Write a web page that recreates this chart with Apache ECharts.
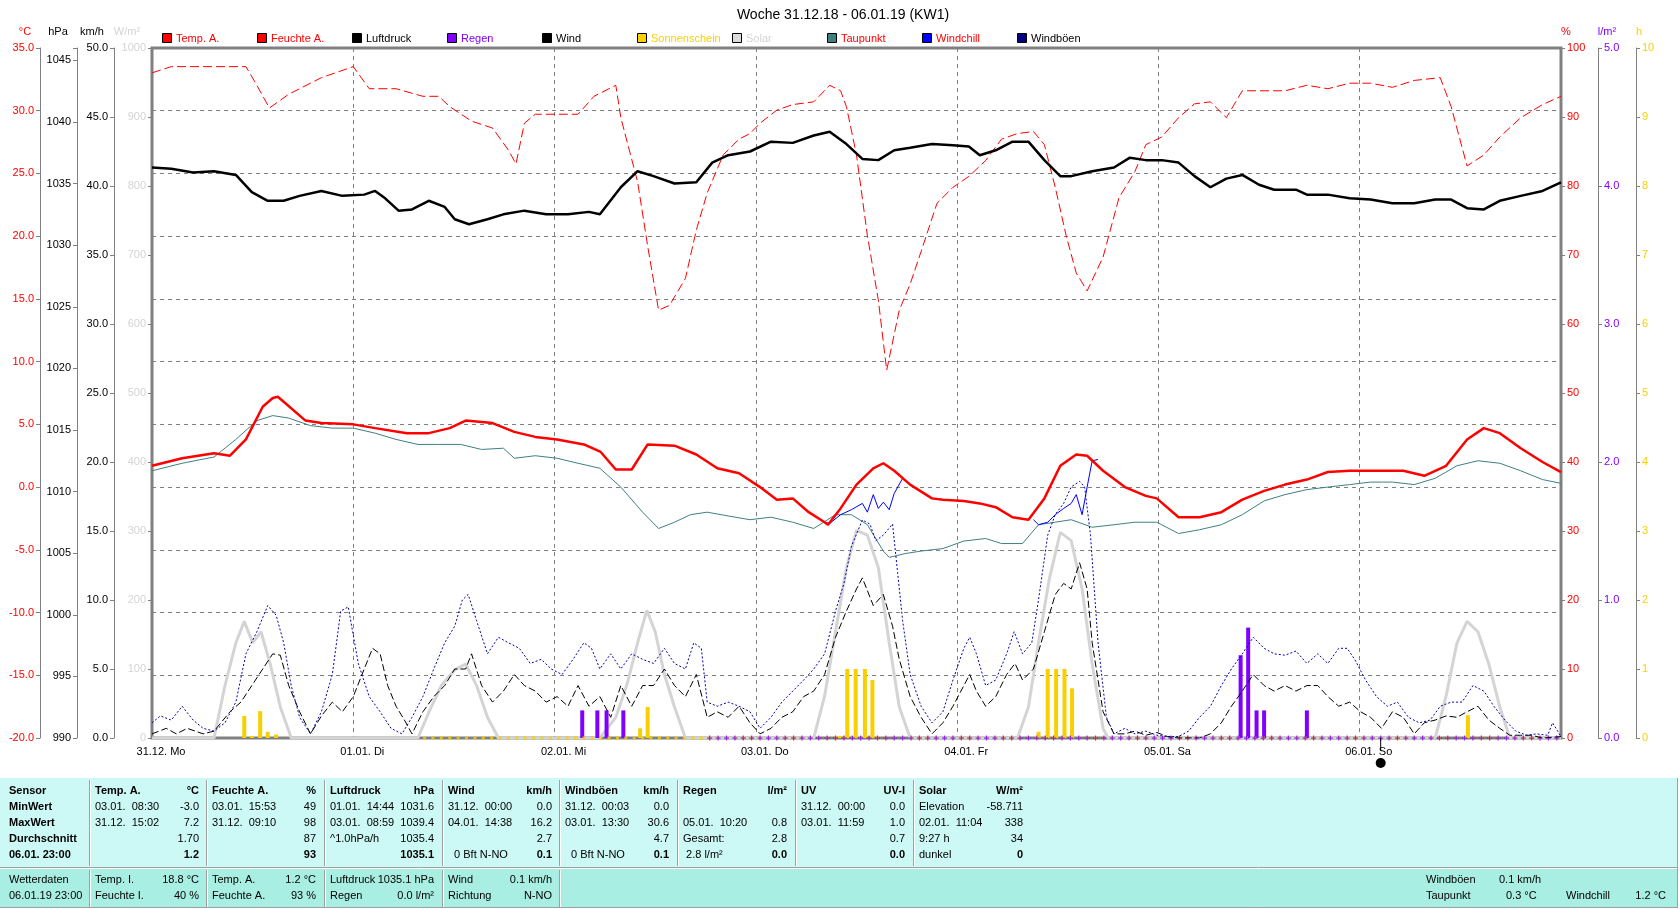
<!DOCTYPE html>
<html>
<head>
<meta charset="utf-8">
<title>Woche 31.12.18 - 06.01.19 (KW1)</title>
<script src="https://cdn.jsdelivr.net/npm/echarts@6/dist/echarts.min.js"></script>
<style>
html, body { margin: 0; padding: 0; background: #fff; }
#chart { width: 1680px; height: 909px; }
</style>
</head>
<body>
<div id="chart"></div>
<script>
'use strict';

/*
 * Wetterstation - Wochengrafik KW1
 * x values are hours since 31.12. 00:00
 */
const FONT = '"Liberation Sans", Arial, sans-serif';

const dayLabels = ['31.12. Mo', '01.01. Di', '02.01. Mi', '03.01. Do', '04.01. Fr', '05.01. Sa', '06.01. So'];
const newMoonHour = 146.5;

// Temp. A. (°C)
const temperature = [[0,1.7],[3.6,2.3],[7.4,2.7],[9.3,2.5],[11.2,3.8],[13.2,6.4],[14.4,7.1],[15,7.2],[15.7,6.8],[18.3,5.3],[20.2,5.1],[24,5.0],[26.6,4.7],[30.4,4.3],[33,4.3],[35.5,4.7],[37.4,5.3],[40.6,5.1],[43.2,4.4],[45.7,4.0],[48.3,3.8],[51.5,3.4],[53.5,2.8],[55.3,1.4],[57.2,1.4],[59.1,3.4],[62.3,3.3],[64.9,2.6],[67.4,1.5],[70,1.1],[72.5,0],[74.5,-1.0],[76.4,-0.9],[78.3,-2.0],[80.2,-2.8],[80.6,-3.0],[82.1,-1.7],[84,0.2],[86,1.5],[87.2,1.9],[88.5,1.3],[90.4,0.2],[93,-0.9],[94.3,-1.0],[96.8,-1.1],[98.7,-1.3],[100.6,-1.6],[102.6,-2.4],[104.5,-2.6],[106.4,-0.9],[108.3,1.7],[110.2,2.6],[111.5,2.5],[113.4,1.3],[116,0],[118.5,-0.7],[119.8,-0.9],[122.4,-2.4],[124.9,-2.4],[127.5,-2.0],[130,-1.0],[132.6,-0.3],[135.1,0.2],[137.7,0.6],[140.2,1.2],[142.8,1.3],[146.6,1.3],[149.2,1.3],[151.7,0.9],[154.3,1.7],[156.8,3.8],[158.8,4.7],[160.7,4.3],[163.2,3.1],[165.8,2.0],[168,1.2]];

// Feuchte A. (%)
const humidity = [[0,96.4],[2.3,97.3],[11.2,97.3],[12.5,94.6],[14,91.3],[16.3,93.3],[20.2,95.7],[24,97.3],[25.9,94.1],[29.1,94.1],[32.3,93],[34.2,93],[35.5,91.5],[38.1,89.4],[40.6,88.4],[42.5,85.2],[43.4,83.2],[44.4,89.1],[45.7,90.4],[48.3,90.4],[50.8,90.4],[52.7,93],[55.3,94.6],[55.9,89.9],[57.9,80.6],[59.1,71.3],[60.4,62],[61.7,62.7],[63.6,66.6],[64.9,73.6],[66.2,79],[68.1,84.5],[70,86.8],[71.3,87.6],[72.5,89.1],[74.5,91],[76.4,91.8],[78.9,92.2],[80.8,94.6],[82.1,93.8],[82.8,91.5],[84,84.5],[85.3,72.8],[86.6,63.5],[87.6,53.3],[89.1,62],[90.4,65.8],[91.7,70.5],[93.6,77.5],[95.5,79.8],[97.4,81.4],[99.4,83.7],[101.3,86.8],[103.2,87.6],[105.1,87.9],[106.4,86],[107.7,79.8],[109,72.8],[110.2,67.4],[111.5,64.8],[113.4,69.7],[115.3,78.3],[117.2,82.1],[118.5,86],[120.4,87.1],[122.4,89.9],[124.3,91.9],[126.2,92.2],[128.1,89.9],[130,93.8],[132.6,93.8],[135.1,93.8],[137.7,94.6],[140.2,94.1],[142.8,94.9],[145.3,94.9],[147.9,94.3],[150.5,95.3],[153.6,95.7],[154.9,91.5],[156.8,82.9],[158.8,84.5],[160.7,87.1],[163.2,89.9],[165.8,91.8],[168,93]];

// Luftdruck (hPa)
const pressure = [[0,1036.3],[2.3,1036.2],[4.9,1035.9],[7.4,1036],[10,1035.7],[11.9,1034.3],[13.8,1033.6],[15.7,1033.6],[17.6,1034],[20.2,1034.4],[22.7,1034],[25.3,1034.1],[26.6,1034.4],[27.8,1033.8],[29.4,1032.8],[31,1032.9],[33,1033.6],[34.9,1033.1],[36.1,1032.1],[37.8,1031.7],[40,1032.1],[41.9,1032.5],[44.4,1032.8],[47,1032.5],[49.6,1032.5],[52.1,1032.7],[53.4,1032.5],[55.9,1034.7],[57.9,1036],[59.8,1035.6],[62.3,1035],[64.9,1035.1],[66.8,1036.7],[68.7,1037.3],[71.3,1037.6],[73.8,1038.4],[76.4,1038.3],[78.9,1038.9],[80.8,1039.2],[82.8,1038.2],[84.7,1037],[86.6,1036.9],[88.5,1037.7],[90.4,1037.9],[93,1038.2],[95.5,1038.1],[97.4,1038],[98.7,1037.3],[100.6,1037.7],[102.6,1038.4],[104.5,1038.4],[106.4,1036.9],[108.3,1035.6],[109.6,1035.6],[112.1,1036],[114.7,1036.3],[116.6,1037.1],[118.5,1036.9],[120.4,1036.9],[122.4,1036.7],[124.3,1035.6],[126.2,1034.7],[128.1,1035.4],[130,1035.7],[132,1034.9],[133.8,1034.5],[136.4,1034.5],[137.7,1034.1],[140.2,1034.1],[142.8,1033.8],[145.3,1033.7],[147.9,1033.4],[150.5,1033.4],[153,1033.7],[154.9,1033.7],[156.8,1033],[158.8,1032.9],[160.7,1033.6],[163.2,1034],[165.8,1034.4],[168,1035.1]];

// Taupunkt (°C)
const dewPoint = [[0,1.3],[3.6,1.9],[7.4,2.4],[10,3.8],[12.5,5.3],[14.4,5.7],[16.3,5.5],[18.9,4.9],[21.5,4.7],[24,4.7],[26.6,4.3],[29.1,3.8],[31.7,3.4],[34.2,3.4],[36.8,3.4],[39.3,3],[41.9,3.1],[43.2,2.3],[45.7,2.5],[48.3,2.3],[50.8,1.9],[53.4,1.5],[55.9,0],[58.5,-2],[60.4,-3.3],[62.3,-2.8],[64.2,-2.2],[66.2,-2],[68.7,-2.3],[71.3,-2.6],[73.8,-2.4],[76.4,-2.8],[78.9,-3.3],[81.5,-2.2],[83.4,-2.2],[85.3,-3],[87.2,-5.1],[87.9,-5.6],[89.8,-5.3],[91.7,-5.1],[94.3,-4.9],[96.8,-4.3],[99.4,-4.1],[101.3,-4.5],[103.8,-4.5],[105.7,-3],[107.7,-2.8],[109.6,-2.6],[112.1,-3.2],[114.7,-3],[117.2,-2.8],[119.8,-2.8],[122.4,-3.7],[124.9,-3.4],[127.5,-3],[130,-2.2],[132.6,-1.1],[135.1,-0.6],[137.7,-0.2],[140.2,0],[142.8,0.2],[145.3,0.4],[147.9,0.4],[150.5,0.2],[153,0.7],[155.6,1.7],[158.1,2.1],[160.7,1.9],[163.2,1.3],[165.8,0.6],[168,0.3]];

// Windchill (°C) - only where it departs from Temp. A.
const windchillThu = [[80.2,-2.8],[80.8,-2.9],[82.1,-2.2],[83.4,-1.8],[84.7,-1.3],[85.3,-2.0],[86,-0.6],[86.6,-1.7],[87.2,-1.2],[87.9,-1.8],[88.5,-0.5],[89.5,0.7],[90.4,0.2]];
const windchillFri = [[105.1,-2.6],[105.7,-3.0],[106.8,-2.8],[107.7,-2.2],[108.7,-1.7],[109.6,-1.3],[110.2,-0.6],[110.9,-2.2],[111.5,0],[112.1,2.1],[112.8,2.2]];

// Wind (km/h)
const wind = [[0,0.3],[1.7,0.7],[2.9,0.3],[4.2,0.7],[6.1,0.3],[7.4,0.5],[9.3,1.9],[10.6,2.6],[11.9,3.8],[13.2,5.0],[14.4,6.1],[15.3,6.0],[16.3,3.8],[17.6,1.9],[18.9,0.3],[20.2,1.6],[21.5,2.6],[22.7,1.9],[24,3.0],[25.3,5.0],[26.3,6.5],[27.2,6.1],[28.1,3.8],[29.1,2.3],[30.1,1.3],[31,0.3],[32.3,1.9],[33.6,3.0],[34.9,3.8],[36.1,5.0],[37.4,5.0],[38.1,6.1],[39.3,3.8],[40.6,2.6],[41.9,3.4],[43.2,4.6],[44.4,3.8],[45.7,3.4],[47,2.6],[48.3,3.0],[49.6,2.3],[50.8,3.8],[52.1,2.3],[53.4,3.0],[54.7,1.5],[55.9,3.8],[57.2,2.3],[58.5,3.8],[59.8,3.8],[61.1,5.0],[62.3,3.8],[63.6,3.0],[64.9,4.6],[66.2,1.5],[67.4,1.9],[68.7,1.5],[70,2.3],[71.3,1.1],[72.5,0.3],[73.8,0.7],[75.1,1.5],[76.4,1.9],[77.7,3.0],[78.9,3.4],[80.2,4.6],[81.5,7.3],[82.8,9.2],[84,10.8],[84.7,11.6],[86,9.6],[87.2,10.4],[88.3,8.1],[89.1,5.7],[90.4,3.0],[91.7,1.5],[93,0.3],[94.3,1.1],[95.5,2.3],[96.8,3.8],[97.5,4.6],[98.3,3.4],[99.4,2.3],[100.6,3.0],[101.9,4.6],[102.9,5.4],[103.8,4.2],[105.1,5.0],[106.4,7.7],[107.7,10.4],[108.7,11.2],[109.6,10.8],[110.6,12.7],[111.5,10.8],[112.1,6.9],[113.4,1.9],[114.7,0.3],[116,0.3],[117.2,0.5],[118.5,0.2],[119.8,0.4],[121.1,0.1],[122.4,0],[124.9,0],[126.2,0.3],[127.5,1.1],[128.7,2.3],[130,3.4],[131.3,4.6],[132.6,3.8],[133.8,3.4],[135.1,3.8],[136.4,3.4],[137.7,3.8],[139,3.8],[140.2,3.0],[141.5,2.3],[142.8,2.6],[144.1,1.9],[145.3,1.5],[146.6,0.7],[147.9,1.9],[149.2,1.5],[150.5,0.3],[151.7,1.1],[153,1.3],[154.3,1.6],[155.6,1.5],[156.8,1.9],[158.1,2.3],[159.4,1.3],[160.7,0.7],[161.9,0.2],[163.2,0.2],[164.5,0.2],[165.8,0],[168,0.1]];

// Windböen (km/h)
const gusts = [[0,1.1],[1,1.6],[2.3,1.3],[3.6,2.3],[4.9,1.3],[6.1,0.7],[7.4,0.5],[8.7,1.1],[10,2.6],[11.2,6.1],[12.5,7.7],[13.8,9.6],[14.8,8.9],[15.7,6.9],[16.6,3.8],[17.6,1.5],[18.9,0.3],[20.2,1.9],[21.5,4.6],[22.5,9.2],[23.4,9.5],[24.6,5.4],[25.9,3.0],[27.2,1.9],[28.5,0.7],[29.8,0.3],[31,1.5],[32.3,3.0],[33.6,5.0],[34.9,6.9],[36.1,8.1],[37,10],[37.7,10.4],[38.7,8.5],[40,6.1],[41.3,7.3],[42.5,6.9],[43.8,6.5],[45.1,5.4],[46.4,5.7],[47.6,5.0],[48.9,4.6],[50.2,5.7],[51.5,6.9],[52.4,6.5],[53.4,5.0],[54.7,6.1],[55.9,5.0],[57.2,6.1],[58.5,5.7],[59.8,5.4],[61.1,6.5],[62.3,5.4],[63.6,5.0],[64.6,6.9],[65.5,6.5],[66.2,2.6],[67.4,2.3],[68.7,2.6],[70,2.3],[71.3,1.9],[72.5,0.7],[73.8,1.5],[75.1,2.6],[76.4,3.4],[77.7,4.2],[78.9,5.0],[80.2,6.1],[81.5,9.2],[82.5,11.2],[83.4,13.9],[84.7,15.8],[85.6,15.5],[86.3,14.3],[87.2,14.7],[88.3,15.5],[88.9,12],[89.5,8.5],[90.4,4.6],[91.7,2.3],[93,1.1],[94.3,1.9],[95.5,4.2],[96.8,6.5],[97.5,7.3],[98.3,6.1],[99.4,3.8],[100.6,4.2],[101.9,6.1],[102.8,7.7],[103.8,6.1],[104.9,6.9],[105.7,10],[106.8,14.7],[107.7,16.2],[108.7,17],[109.6,18.2],[110.6,18.6],[111.2,18.2],[111.9,14.7],[112.8,6.9],[113.8,1.5],[114.7,0.3],[116,0.7],[117.2,0.3],[118.5,0.5],[119.8,0.2],[121.1,0.1],[122.4,0.1],[123.6,0.5],[124.9,1.5],[126.2,2.3],[127.5,3.8],[128.7,5.0],[130,6.1],[131.3,7.3],[132.6,6.5],[133.8,6.1],[135.1,6.0],[136.4,6.3],[137.7,5.4],[139,6.1],[140.2,5.4],[141.5,6.5],[142.5,6.5],[143.4,5.7],[144.7,4.2],[146,3.0],[147.3,2.3],[148.5,2.6],[149.8,1.5],[151.1,1.1],[152.4,1.3],[153.6,2.3],[154.9,2.6],[156.2,2.6],[157.5,3.8],[158.8,3.4],[160,2.3],[161.3,1.3],[162.6,0.5],[163.9,0.2],[165.1,0.3],[166.4,0.2],[167,1.1],[168,0.1]];

// Solar (W/m²)
const solar = [[0,0],[7.4,0],[8.7,76],[10,138],[11,169],[12,138],[13,154],[14.1,107],[15.3,45],[16.6,0],
  [31.7,0],[33,37],[34.5,76],[36.1,99],[37.4,107],[38.7,76],[40,30],[41.3,0],
  [53.4,0],[55.3,30],[56.6,76],[57.9,138],[59,185],[60,154],[61.1,92],[62.3,45],[63.6,0],
  [78.9,0],[80.2,61],[81.5,154],[82.8,247],[84,301],[85.3,294],[86.6,247],[87.9,138],[89.1,45],[90.4,0],
  [103.2,0],[104.5,45],[105.7,138],[107,231],[108.3,298],[109.6,286],[110.9,216],[112.1,107],[113.4,14],[114,0],
  [153,0],[154.3,61],[155.6,138],[156.8,169],[158.1,154],[159.4,107],[160.7,45],[161.9,0],[168,0]];

// Sonnenschein (h per hour)
const sunshine = [[11,0.32],[11.9,0.03],[12.9,0.39],[13.8,0.09],[14.8,0.05],[58.2,0.14],[59.1,0.45],
  [82,0.03],[82.9,1.0],[83.9,1.0],[85,1.0],[85.9,0.84],
  [105.7,0.09],[106.8,1.0],[107.8,1.0],[108.8,1.0],[109.7,0.72],[156.9,0.33]];

// Regen (l/m² per hour)
const rain = [[51.3,0.2],[53.1,0.2],[54.2,0.2],[56.2,0.2],[129.8,0.6],[130.7,0.8],[131.7,0.2],[132.6,0.2],[137.7,0.2]];

// hours with logged zero values (baseline markers)
const sunLoggedFrom = 32;
const rainLoggedFrom = 66;

const legendItems = [
    ['Temp. A.', '#ff0000', '#ff0000'],
    ['Feuchte A.', '#ff0000', '#ff0000'],
    ['Luftdruck', '#000000', '#000000'],
    ['Regen', '#8000ff', '#8000ff'],
    ['Wind', '#000000', '#000000'],
    ['Sonnenschein', '#f8d000', '#f8d000'],
    ['Solar', '#dcdcdc', '#d4d4d4'],
    ['Taupunkt', '#408080', '#ff0000'],
    ['Windchill', '#0000ff', '#ff0000'],
    ['Windböen', '#000080', '#000000']
];

const unitLabels = [
    ['°C', 25, '#ff0000'], ['hPa', 58, '#000000'], ['km/h', 92, '#000000'], ['W/m²', 127, '#d4d4d4'],
    ['%', 1566, '#ff0000'], ['l/m²', 1607, '#8000ff'], ['h', 1639, '#f8d000']
];

const statHeads = ['Sensor', 'MinWert', 'MaxWert', 'Durchschnitt', '06.01. 23:00'];
const statCols = [
    { title: 'Temp. A.', unit: '°C', left: ['03.01.  08:30', '31.12.  15:02', '', ''], right: ['-3.0', '7.2', '1.70', '1.2'] },
    { title: 'Feuchte A.', unit: '%', left: ['03.01.  15:53', '31.12.  09:10', '', ''], right: ['49', '98', '87', '93'] },
    { title: 'Luftdruck', unit: 'hPa', left: ['01.01.  14:44', '03.01.  08:59', '^1.0hPa/h', ''], right: ['1031.6', '1039.4', '1035.4', '1035.1'] },
    { title: 'Wind', unit: 'km/h', left: ['31.12.  00:00', '04.01.  14:38', '', '  0 Bft N-NO'], right: ['0.0', '16.2', '2.7', '0.1'] },
    { title: 'Windböen', unit: 'km/h', left: ['31.12.  00:03', '03.01.  13:30', '', '  0 Bft N-NO'], right: ['0.0', '30.6', '4.7', '0.1'] },
    { title: 'Regen', unit: 'l/m²', left: ['', '05.01.  10:20', 'Gesamt:', ' 2.8 l/m²'], right: ['', '0.8', '2.8', '0.0'] },
    { title: 'UV', unit: 'UV-I', left: ['31.12.  00:00', '03.01.  11:59', '', ''], right: ['0.0', '1.0', '0.7', '0.0'] },
    { title: 'Solar', unit: 'W/m²', left: ['Elevation', '02.01.  11:04', '9:27 h', 'dunkel'], right: ['-58.711', '338', '34', '0'] }
];
const nowHead = ['Wetterdaten', '06.01.19 23:00'];
const nowCols = [
    ['Temp. I.', '18.8 °C', 'Feuchte I.', '40 %'],
    ['Temp. A.', '1.2 °C', 'Feuchte A.', '93 %'],
    ['Luftdruck', '1035.1 hPa', 'Regen', '0.0 l/m²'],
    ['Wind', '0.1 km/h', 'Richtung', 'N-NO']
];
const nowExtra = [
    ['Windböen', 1426, 880], ['0.1 km/h', 1499, 880],
    ['Taupunkt', 1426, 896], ['0.3 °C', 1506, 896],
    ['Windchill', 1566, 896]
];

const colSeps = [89, 206, 324, 442, 559, 677, 795, 913];
const statRowsY = [791, 807, 823, 839, 855];
const nowRowsY = [880, 896];

/* ---------- graphic helpers ---------- */
const graphics = [];

const text = (x, y, str, color, opts) => {
    const o = opts || {};
    graphics.push({
        type: 'text', x, y, z: 100, silent: true,
        style: {
            text: str, fill: color || '#000',
            font: (o.bold ? 'bold ' : '') + (o.size || 11) + 'px ' + FONT,
            textAlign: o.align || 'left', textVerticalAlign: 'middle'
        }
    });
};
const rect = (x, y, w, h, fill) => graphics.push({ type: 'rect', z: 90, silent: true, shape: { x, y, width: w, height: h }, style: { fill } });
const line = (x1, y1, x2, y2, stroke, w) => graphics.push({ type: 'line', z: 95, silent: true, shape: { x1, y1, x2, y2 }, style: { stroke, lineWidth: w || 1 } });

// title, legend, axis units
text(843, 15, 'Woche 31.12.18 - 06.01.19 (KW1)', '#000', { size: 14, align: 'center' });
legendItems.forEach(([name, box, color], i) => {
    const x = 162 + i * 95;
    graphics.push({ type: 'rect', z: 100, shape: { x: x + 0.5, y: 33.5, width: 9, height: 9 }, style: { fill: box, stroke: '#000', lineWidth: 1 } });
    text(x + 14, 38.5, name, color);
});
unitLabels.forEach(([u, x, c]) => text(x, 32, u, c, { align: 'center' }));

// stats table
rect(0, 778, 1678, 89, '#ccf8f5');
rect(0, 869, 1678, 39, '#a9eee3');
line(0, 867.5, 1678, 867.5, '#a0a0a0');
line(0, 868.5, 1678, 868.5, '#ffffff');
line(0, 907.5, 1678, 907.5, '#a0a0a0');
line(1677.5, 778, 1677.5, 908, '#a0a0a0');
colSeps.forEach(x => {
    line(x + 0.5, 780, x + 0.5, 866, '#a0a0a0');
    line(x + 1.5, 780, x + 1.5, 866, '#ffffff');
});
colSeps.slice(0, 5).forEach(x => {
    line(x + 0.5, 870, x + 0.5, 907, '#a0a0a0');
    line(x + 1.5, 870, x + 1.5, 907, '#ffffff');
});
statHeads.forEach((s, r) => text(9, statRowsY[r], s, '#000', { bold: true }));
statCols.forEach((col, c) => {
    const left = colSeps[c] + 6;
    const right = left + 104;
    text(left, statRowsY[0], col.title, '#000', { bold: true });
    text(right, statRowsY[0], col.unit, '#000', { bold: true, align: 'right' });
    col.left.forEach((s, r) => text(left, statRowsY[r + 1], s, '#000'));
    col.right.forEach((s, r) => text(right, statRowsY[r + 1], s, '#000', { bold: r === 3, align: 'right' }));
});
nowHead.forEach((s, r) => text(9, nowRowsY[r], s, '#000'));
nowCols.forEach((col, c) => {
    const left = colSeps[c] + 6;
    const right = left + 104;
    text(left, nowRowsY[0], col[0], '#000');
    text(right, nowRowsY[0], col[1], '#000', { align: 'right' });
    text(left, nowRowsY[1], col[2], '#000');
    text(right, nowRowsY[1], col[3], '#000', { align: 'right' });
});
nowExtra.forEach(([s, x, y]) => text(x, y, s, '#000'));
text(1666, 896, '1.2 °C', '#000', { align: 'right' });

/* ---------- axes ---------- */
const grey = '#808080';
const yAxisFor = (position, offset, min, max, interval, color, formatter) => ({
    type: 'value', position, offset, min, max, interval,
    axisLine: { show: true, onZero: false, lineStyle: { color: grey, width: 1 } },
    axisTick: { show: true, length: 4, lineStyle: { color: grey } },
    splitLine: { show: false },
    axisLabel: { color, fontSize: 11, fontFamily: FONT, margin: 6, formatter }
});
const oneDecimal = v => v.toFixed(1);

const yAxes = [
    yAxisFor('left', 112, -20, 35, 5, '#ff0000', oneDecimal),
    yAxisFor('left', 75, 990, 1046, 5, '#000000', v => (v % 5 === 0 ? String(v) : '')),
    yAxisFor('left', 38, 0, 50, 5, '#000000', oneDecimal),
    yAxisFor('left', 0, 0, 1000, 100, '#d4d4d4', v => String(v)),
    yAxisFor('right', 0, 0, 100, 10, '#ff0000', v => String(v)),
    yAxisFor('right', 37, 0, 5, 1, '#8000ff', oneDecimal),
    yAxisFor('right', 75, 0, 10, 1, '#f8d000', v => String(v))
];
yAxes[0].splitLine = { show: true, lineStyle: { color: grey, width: 1, type: [4, 4] } };

/* ---------- series ---------- */
const lineSeries = (name, data, yAxisIndex, color, width, type, z) => ({
    name, type: 'line', data, yAxisIndex, z,
    showSymbol: false, symbol: 'none', smooth: false, clip: true,
    lineStyle: { color, width, type: type || 'solid' }
});

const sunMarks = [];
for (let h = sunLoggedFrom; h < 168; h++) sunMarks.push([h + 0.5, 0]);
const rainMarks = [];
for (let h = rainLoggedFrom; h < 168; h++) rainMarks.push([h + 0.5, 0]);

const series = [
    lineSeries('Solar', solar, 3, '#d4d4d4', 3, 'solid', 1),
    { name: 'Sonnenschein', type: 'bar', yAxisIndex: 6, data: sunshine, barWidth: 4, barGap: '-100%', z: 2, itemStyle: { color: '#f8d000' } },
    { name: 'Regen', type: 'bar', yAxisIndex: 5, data: rain, barWidth: 4, barGap: '-100%', z: 2, itemStyle: { color: '#8000ff' } },
    { type: 'scatter', yAxisIndex: 6, data: sunMarks, symbol: 'rect', symbolSize: 3, clip: false, z: 3, itemStyle: { color: '#f8d000' } },
    { type: 'scatter', yAxisIndex: 5, data: rainMarks, symbol: 'path://M1.5,0H2.5V1.5H4V2.5H2.5V4H1.5V2.5H0V1.5H1.5Z', symbolSize: 5, clip: false, z: 4, itemStyle: { color: '#8000ff' } },
    lineSeries('Taupunkt', dewPoint, 0, '#408080', 1, 'solid', 5),
    lineSeries('Windchill', windchillThu, 0, '#0000ff', 1, 'solid', 6),
    lineSeries('Windchill', windchillFri, 0, '#0000ff', 1, 'solid', 6),
    lineSeries('Temp. A.', temperature, 0, '#ff0000', 2.5, 'solid', 7),
    lineSeries('Feuchte A.', humidity, 4, '#ff0000', 1, [9, 4], 7),
    lineSeries('Luftdruck', pressure, 1, '#000000', 2.5, 'solid', 8),
    lineSeries('Wind', wind, 2, '#000000', 1, [7, 3], 8),
    lineSeries('Windböen', gusts, 2, '#0000b0', 1, [2, 2], 8)
];

const option = {
    animation: false,
    backgroundColor: '#ffffff',
    textStyle: { fontFamily: FONT },
    grid: { left: 152, right: 119, top: 48, bottom: 171, show: true, borderColor: grey, borderWidth: 3, backgroundColor: 'transparent' },
    xAxis: {
        type: 'value', min: 0, max: 168, interval: 24,
        axisLine: { show: true, onZero: false, lineStyle: { color: grey, width: 2 } },
        axisTick: { show: false },
        splitLine: { show: true, lineStyle: { color: grey, width: 1, type: [4, 4] } },
        axisLabel: {
            color: '#000', fontSize: 11, fontFamily: FONT, margin: 8,
            padding: [0, 0, 0, 18],
            formatter: v => dayLabels[v / 24] || ''
        }
    },
    yAxis: yAxes,
    series,
    graphic: graphics
};

const chart = echarts.init(document.getElementById('chart'), null, { renderer: 'canvas' });
chart.setOption(option);

// new moon marker below the time axis
const moonX = chart.convertToPixel({ xAxisIndex: 0 }, newMoonHour);
graphics.push({ type: 'line', z: 100, shape: { x1: moonX, y1: 738, x2: moonX, y2: 751 }, style: { stroke: '#000', lineWidth: 1 } });
graphics.push({ type: 'circle', z: 100, shape: { cx: moonX, cy: 763, r: 5 }, style: { fill: '#000' } });
chart.setOption({ graphic: graphics });
</script>
</body>
</html>
